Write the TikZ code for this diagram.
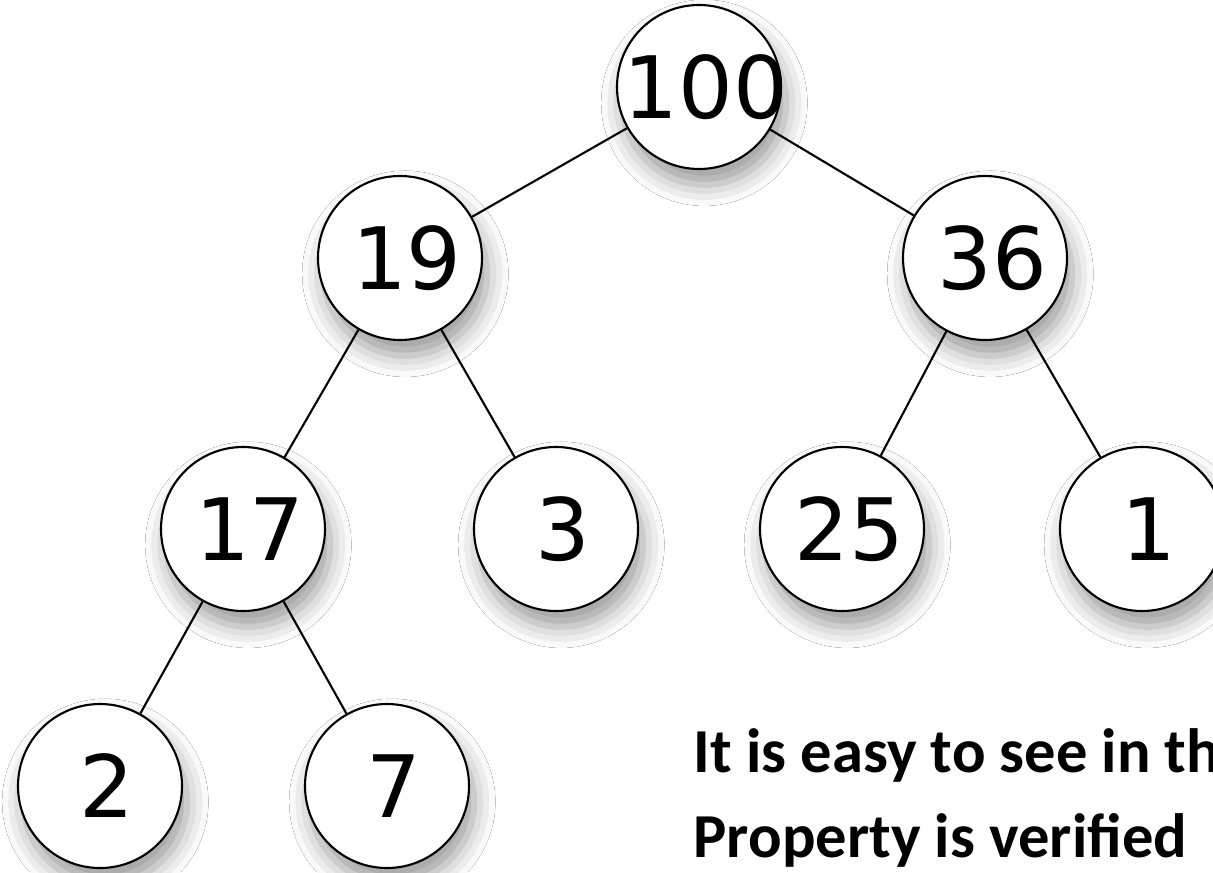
\documentclass[tikz,border=0pt]{standalone}
\usepackage{fontspec}
\newfontfamily\heapfont{DejaVu Sans}
\newfontfamily\notefont{Carlito}
\usetikzlibrary{positioning,shadows.blur}
\tikzset{
    heap node/.style={
        circle,
        draw=black,
        line width=0.6pt,
        fill=white,
        minimum size=1.64cm,
        inner sep=0pt,
        font=\heapfont\fontsize{24.5}{29}\selectfont,
        blur shadow={shadow xshift=1.5pt, shadow yshift=-4.5pt,
                     shadow blur radius=6pt, shadow opacity=40},
        % keys may spill over the rim (100), so the box takes no width
        execute at begin node={\hbox to 0pt\bgroup\hss\kern0.14cm},
        execute at end node={\hss\egroup}
    },
    heap edge/.style={line width=0.6pt, draw=black},
    heap note/.style={font=\notefont\bfseries\fontsize{17.8}{22}\selectfont, inner sep=0pt}
}

\begin{document}
\begin{tikzpicture}[on grid]
\clip (0,0) rectangle (12.13,-8.72);
\fill[white] (0,0) rectangle (12.13,-8.72);

% max-heap, one level at a time
\node[heap node] (n100) at (6.99,-0.87) {100};
\node[heap node, below left=1.71cm and 2.99cm of n100] (n19) {19};
\node[heap node, below right=1.71cm and 2.86cm of n100] (n36) {36};
\node[heap node, below left=2.71cm and 1.57cm of n19] (n17) {17};
\node[heap node, below right=2.71cm and 1.56cm of n19] (n3) {3};
\node[heap node, below left=2.71cm and 1.43cm of n36] (n25) {25};
\node[heap node, below right=2.71cm and 1.57cm of n36] (n1) {1};
\node[heap node, below left=2.57cm and 1.43cm of n17] (n2) {2};
\node[heap node, below right=2.57cm and 1.44cm of n17] (n7) {7};

\draw[heap edge] (n100) -- (n19);
\draw[heap edge] (n100) -- (n36);
\draw[heap edge] (n19) -- (n17);
\draw[heap edge] (n19) -- (n3);
\draw[heap edge] (n36) -- (n25);
\draw[heap edge] (n36) -- (n1);
\draw[heap edge] (n17) -- (n2);
\draw[heap edge] (n17) -- (n7);

% remark beside the tree
\node[heap note, anchor=base west] (note1) at (6.93,-7.72) {It is easy to see in th};
\node[heap note, below=0.85cm of note1.base west, anchor=base west] (note2) {Property is verified};
\end{tikzpicture}
\end{document}
